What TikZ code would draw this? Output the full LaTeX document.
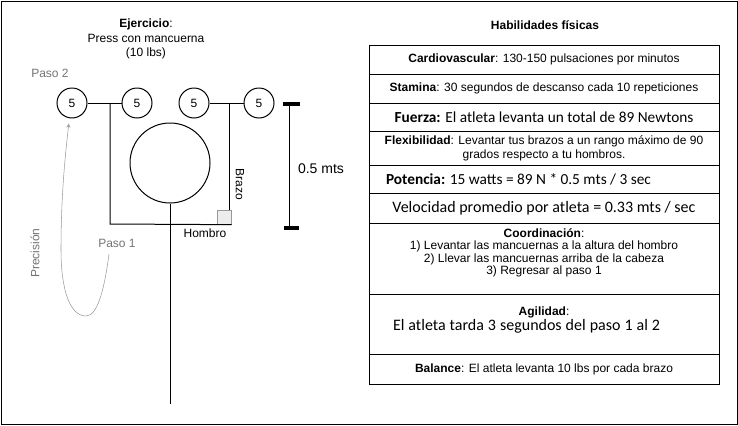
\documentclass[tikz,border=0pt]{standalone}
\usepackage{fontspec}
\setmainfont{Liberation Sans}
\newfontfamily\carlito{Carlito}
\usetikzlibrary{arrows, positioning}
\tikzstyle{txt} = [inner sep=0pt, align=center, font=\fontsize{9}{10.8}\selectfont]
\tikzstyle{note} = [txt, text=black!55]
\tikzstyle{weight} = [circle, draw=black, minimum size=22.5pt, inner sep=0pt, font=\fontsize{9}{10.8}\selectfont]
\tikzstyle{row} = [rectangle, draw=black, minimum width=262.5pt, align=center, inner sep=0pt, outer sep=0pt, font=\fontsize{9}{10.5}\selectfont]
\tikzstyle{rowleft} = [row, text width=262.5pt, align=left]
\tikzstyle{big} = [font=\carlito\fontsize{11.5}{13}\selectfont]
\tikzstyle{bigger} = [font=\carlito\fontsize{12}{14}\selectfont]
\tikzstyle{bar} = [line width=3pt]
\tikzstyle{arrow} = [->, >=stealth, draw=black!40, thin]

\begin{document}
\begin{tikzpicture}[x=0.75pt, y=-0.75pt, line width=0.75pt]
\useasboundingbox (0,0) rectangle (738,425);
\draw (1,1) rectangle (737,424);

% ejercicio
\node (ejercicio) [txt] at (146,39)
	{\textbf{Ejercicio}:\\Press con mancuerna\\(10 lbs)};
\node (w1) [weight] at (72,103) {5};
\node (w2) [weight] at (137,103) {5};
\node (w3) [weight] at (194,103) {5};
\node (w4) [weight] at (259,103) {5};
\node (head) [circle, draw=black, minimum size=60pt, inner sep=0pt] at (170,163) {};
\node (hombro) [rectangle, draw=black!40, fill=black!7, minimum size=10pt, inner sep=0pt] at (224.5,217.5) {};

\coordinate (manoizq) at (110,103);
\coordinate (codoizq) at (110,224);
\coordinate (manoder) at (229,103);
\coordinate (pie) at (170,404);

\draw (w1) -- (w2);
\draw (w3) -- (w4);
\draw (manoizq) -- (codoizq) -- (hombro.south east);
\draw (manoder) -- (manoder |- hombro.north);
\draw (head) -- (pie);

\node (brazo) [txt, rotate=-90] at (240,184) {Brazo};
\node (hombrotxt) [txt] at (205,233) {Hombro};

% medida
\coordinate (bartop) at (289,104);
\coordinate (barbot) at (289,228);
\draw (bartop) -- (barbot);
\draw [bar] (283,104) -- (300,104);
\draw [bar] (284,228) -- (299,228);
\node (medida) [txt, font=\fontsize{10.5}{12}\selectfont] at (321,169) {0.5 mts};

% pasos
\node (paso2) [note] at (50,73) {Paso 2};
\node (paso1) [note] at (117,243) {Paso 1};
\node (precision) [note, rotate=90] at (35,253) {Precisión};
\coordinate (inicio) at (109,254);
\draw [arrow, shorten >=4pt] (inicio) .. controls (104,292) and (97,316) .. (86,316)
	.. controls (70,316) and (61,290) .. (61,250)
	.. controls (61,190) and (66,150) .. (w1.-100);

% habilidades
\node (habilidades) [txt, font=\bfseries\fontsize{9}{10.8}\selectfont] at (545,25) {Habilidades físicas};
\node (cardio) [row, minimum height=21.75pt, anchor=north] at (544,45)
	{\textbf{Cardiovascular}: 130-150 pulsaciones por minutos};
\node (stamina) [row, minimum height=21.75pt, below=0pt of cardio]
	{\textbf{Stamina}: 30 segundos de descanso cada 10 repeticiones};
\node (fuerza) [row, big, minimum height=21pt, below=0pt of stamina]
	{\textbf{Fuerza:} El atleta levanta un total de 89 Newtons};
\node (flex) [row, minimum height=25.5pt, below=0pt of fuerza]
	{\textbf{Flexibilidad}: Levantar tus brazos a un rango máximo de 90\\grados respecto a tu hombros.};
\node (potencia) [row, big, minimum height=21pt, below=0pt of flex]
	{\makebox[262.5pt][l]{\hspace*{12.75pt}\textbf{Potencia:} 15 watts = 89 N * 0.5 mts / 3 sec}};
\node (velocidad) [row, bigger, minimum height=22.5pt, below=0pt of potencia]
	{Velocidad promedio por atleta = 0.33 mts / sec};
\node (coord) [row, minimum height=53.25pt, below=0pt of velocidad, font=\fontsize{9}{9.4}\selectfont]
	{\textbf{Coordinación}:\\1) Levantar las mancuernas a la altura del hombro\\2) Llevar las mancuernas arriba de la cabeza\\3) Regresar al paso 1\\[1pt]\mbox{}};
\node (agilidad) [rowleft, minimum height=45pt, below=0pt of coord]
	{\makebox[262.5pt]{\textbf{Agilidad}:}\\[1pt]\hspace*{18pt}{\carlito\fontsize{12}{14}\selectfont El atleta tarda 3 segundos del paso 1 al 2}\\[-2pt]\mbox{}};
\node (balance) [row, minimum height=22.5pt, below=0pt of agilidad]
	{\textbf{Balance}: El atleta levanta 10 lbs por cada brazo};

\end{tikzpicture}
\end{document}
